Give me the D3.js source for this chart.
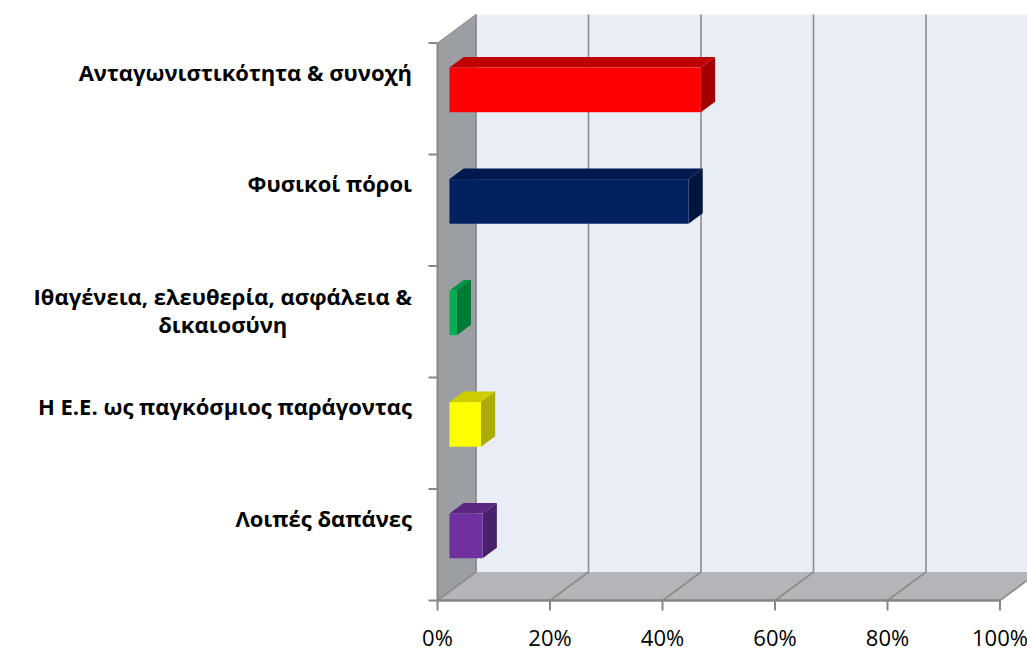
<!DOCTYPE html>
<html>
<head>
<meta charset="utf-8">
<script src="https://cdn.jsdelivr.net/npm/d3@7"></script>
<style>
  body { margin: 0; background: #fff; }
  svg { display: block; }
  .cat { font-family: "Open Sans", sans-serif; font-weight: bold; font-size: 22px; fill: #000; }
  .tick-label { font-family: "Open Sans", sans-serif; font-size: 22px; fill: #000; }
</style>
</head>
<body>
<script>
// Data
const categories = [
  "Ανταγωνιστικότητα & συνοχή",
  "Φυσικοί πόροι",
  "Ιθαγένεια, ελευθερία, ασφάλεια & δικαιοσύνη",
  "Η Ε.Ε. ως παγκόσμιος παράγοντας",
  "Λοιπές δαπάνες"
];
const labelLines = [
  ["Ανταγωνιστικότητα & συνοχή"],
  ["Φυσικοί πόροι"],
  ["Ιθαγένεια, ελευθερία, ασφάλεια &", "δικαιοσύνη"],
  ["Η Ε.Ε. ως παγκόσμιος παράγοντας"],
  ["Λοιπές δαπάνες"]
];
const values = [0.447, 0.425, 0.013, 0.056, 0.059];
const xTicks = [0, 0.2, 0.4, 0.6, 0.8, 1.0];

// colours: front, top, side
const barColors = [
  ["#ff0000", "#c00000", "#a20000"],
  ["#002060", "#001a4f", "#00163f"],
  ["#00b050", "#009443", "#007a37"],
  ["#ffff00", "#cccc00", "#abab00"],
  ["#7030a0", "#5a2682", "#4a1f6b"]
];

const width = 1027, height = 652;
const depth = { dx: 38.5, dy: -28.5 };
const barDepth = [0.31, 0.68];

const svg = d3.select("body").append("svg")
  .attr("width", width)
  .attr("height", height);

// Scales (front plane)
const x = d3.scaleLinear().domain([0, 1]).range([437.5, 1000]);
const y = d3.scaleBand().domain(categories).range([43, 600.5])
  .paddingInner(0.6).paddingOuter(0.3);

const x0 = x(0), x1 = x(1), yTop = 43, yBot = 600.5;
const dx = depth.dx, dy = depth.dy;
const pts = p => p.map(d => d.join(",")).join(" ");

// Back wall
svg.append("polygon")
  .attr("points", pts([[x0 + dx, yTop + dy], [x1 + dx, yTop + dy], [x1 + dx, yBot + dy], [x0 + dx, yBot + dy]]))
  .attr("fill", "#e9edf6");

// Left wall
svg.append("polygon")
  .attr("points", pts([[x0, yTop], [x0 + dx, yTop + dy], [x0 + dx, yBot + dy], [x0, yBot]]))
  .attr("fill", "#9b9ea2")
  .attr("stroke", "#8a8c90")
  .attr("stroke-width", 1);

// Floor
svg.append("polygon")
  .attr("points", pts([[x0, yBot], [x1, yBot], [x1 + dx, yBot + dy], [x0 + dx, yBot + dy]]))
  .attr("fill", "#b3b5b9");

// Gridlines (floor diagonal + back wall vertical)
svg.append("g").selectAll("polyline")
  .data(xTicks)
  .join("polyline")
  .attr("points", t => pts([[x(t), yBot], [x(t) + dx, yBot + dy], [x(t) + dx, yTop + dy]]))
  .attr("fill", "none")
  .attr("stroke", "#8c8c8c")
  .attr("stroke-width", 1.6);

// Axis lines
svg.append("line")
  .attr("x1", x0).attr("x2", x1).attr("y1", yBot).attr("y2", yBot)
  .attr("stroke", "#868686").attr("stroke-width", 2.5);
svg.append("line")
  .attr("x1", x0).attr("x2", x0).attr("y1", yTop).attr("y2", yBot)
  .attr("stroke", "#868686").attr("stroke-width", 2);

// X ticks and labels
const xAxis = svg.append("g");
xAxis.selectAll("line")
  .data(xTicks)
  .join("line")
  .attr("x1", d => x(d)).attr("x2", d => x(d))
  .attr("y1", yBot).attr("y2", yBot + 10)
  .attr("stroke", "#868686").attr("stroke-width", 2);
xAxis.selectAll("text")
  .data(xTicks)
  .join("text")
  .attr("class", "tick-label")
  .attr("x", d => x(d))
  .attr("y", 646)
  .attr("text-anchor", "middle")
  .text(d3.format(".0%"));

// Y ticks (category boundaries)
const bounds = categories.map(c => y(c) - y.step() * 0.3).concat([yBot]);
svg.append("g").selectAll("line")
  .data(bounds)
  .join("line")
  .attr("x1", x0 - 9).attr("x2", x0)
  .attr("y1", d => d).attr("y2", d => d)
  .attr("stroke", "#868686").attr("stroke-width", 2);

// Bars
const bars = svg.append("g");
categories.forEach((c, i) => {
  const [cf, ct, cs] = barColors[i];
  const fx0 = x(0) + dx * barDepth[0];
  const fx1 = x(values[i]) + dx * barDepth[0];
  const fy0 = y(c) + dy * barDepth[0];
  const fy1 = fy0 + y.bandwidth();
  const ox = dx * (barDepth[1] - barDepth[0]);
  const oy = dy * (barDepth[1] - barDepth[0]);
  // top face
  bars.append("polygon")
    .attr("points", pts([[fx0, fy0], [fx1, fy0], [fx1 + ox, fy0 + oy], [fx0 + ox, fy0 + oy]]))
    .attr("fill", ct);
  // side face
  bars.append("polygon")
    .attr("points", pts([[fx1, fy0], [fx1 + ox, fy0 + oy], [fx1 + ox, fy1 + oy], [fx1, fy1]]))
    .attr("fill", cs);
  // front face
  bars.append("rect")
    .attr("x", fx0).attr("y", fy0)
    .attr("width", fx1 - fx0).attr("height", fy1 - fy0)
    .attr("fill", cf);
});

// Category labels: right aligned; wrapped lines centred under the first line
const labels = svg.append("g");
const labelRight = 412;
categories.forEach((c, i) => {
  const lines = labelLines[i];
  const center = y(c) + dy * barDepth[0] + y.bandwidth() / 2;
  const lh = 28;
  const mid = lines.length > 1 ? center - 2 : center - 17;
  let firstMid = labelRight;
  lines.forEach((ln, j) => {
    const ly = mid + (j - (lines.length - 1) / 2) * lh + 8;
    const t = labels.append("text")
      .attr("class", "cat")
      .attr("y", ly)
      .text(ln);
    if (j === 0) {
      t.attr("x", labelRight).attr("text-anchor", "end");
      firstMid = labelRight - t.node().getComputedTextLength() / 2;
    } else {
      t.attr("x", firstMid).attr("text-anchor", "middle");
    }
  });
});
</script>
</body>
</html>
